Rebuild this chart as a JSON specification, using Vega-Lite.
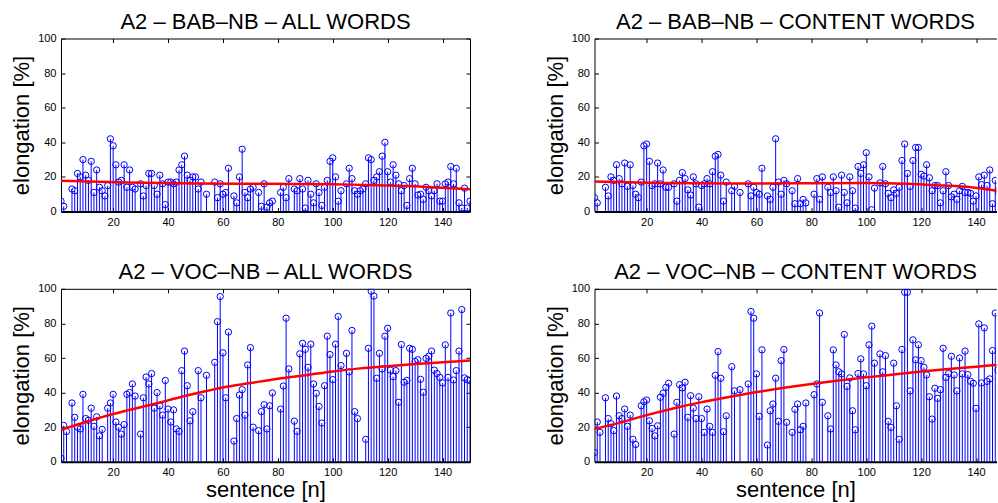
{
"$schema": "https://vega.github.io/schema/vega-lite/v6.json",
"padding": {"left": 10, "top": 10.5, "right": 0, "bottom": 0},
"datasets": {
"bab_all": [{"n":1,"v":6},{"n":2,"v":3},{"n":5,"v":13},{"n":6,"v":12},{"n":7,"v":22},{"n":8,"v":20},{"n":9,"v":30},{"n":10,"v":21},{"n":11,"v":18},{"n":12,"v":29},{"n":13,"v":11},{"n":14,"v":24},{"n":15,"v":14},{"n":16,"v":12},{"n":17,"v":9},{"n":18,"v":15},{"n":19,"v":42},{"n":20,"v":38},{"n":21,"v":27},{"n":22,"v":17},{"n":23,"v":18},{"n":24,"v":27},{"n":25,"v":14},{"n":26,"v":24},{"n":27,"v":14},{"n":28,"v":13},{"n":30,"v":16},{"n":31,"v":9},{"n":32,"v":15},{"n":33,"v":22},{"n":34,"v":22},{"n":35,"v":15},{"n":36,"v":10},{"n":37,"v":21},{"n":38,"v":16},{"n":39,"v":4},{"n":40,"v":17},{"n":41,"v":17},{"n":42,"v":16},{"n":43,"v":17},{"n":44,"v":24},{"n":45,"v":27},{"n":46,"v":32},{"n":47,"v":21},{"n":48,"v":18},{"n":49,"v":20},{"n":50,"v":20},{"n":51,"v":13},{"n":52,"v":17},{"n":54,"v":10},{"n":57,"v":17},{"n":58,"v":8},{"n":59,"v":16},{"n":60,"v":10},{"n":61,"v":11},{"n":62,"v":25},{"n":64,"v":9},{"n":65,"v":5},{"n":66,"v":20},{"n":67,"v":36},{"n":68,"v":11},{"n":69,"v":8},{"n":70,"v":13},{"n":71,"v":14},{"n":73,"v":11},{"n":74,"v":3},{"n":75,"v":16},{"n":76,"v":2.5},{"n":77,"v":5},{"n":78,"v":6},{"n":81,"v":11},{"n":82,"v":14},{"n":83,"v":8},{"n":84,"v":19},{"n":86,"v":13},{"n":87,"v":12},{"n":88,"v":19},{"n":89,"v":13},{"n":90,"v":2},{"n":91,"v":18},{"n":92,"v":10},{"n":93,"v":5},{"n":94,"v":16},{"n":95,"v":11},{"n":96,"v":3.5},{"n":97,"v":14},{"n":98,"v":18},{"n":99,"v":29},{"n":100,"v":31},{"n":101,"v":20},{"n":102,"v":6},{"n":103,"v":12},{"n":105,"v":16},{"n":106,"v":25},{"n":107,"v":19},{"n":108,"v":12},{"n":109,"v":10},{"n":110,"v":12},{"n":111,"v":13},{"n":112,"v":16},{"n":113,"v":31},{"n":114,"v":30},{"n":115,"v":18},{"n":116,"v":20},{"n":117,"v":23},{"n":118,"v":32},{"n":119,"v":40},{"n":120,"v":23},{"n":121,"v":17},{"n":122,"v":27},{"n":123,"v":21},{"n":124,"v":16},{"n":125,"v":12},{"n":126,"v":15},{"n":127,"v":3.5},{"n":128,"v":19},{"n":129,"v":25},{"n":130,"v":16},{"n":131,"v":9.5},{"n":132,"v":10},{"n":133,"v":7},{"n":134,"v":14},{"n":135,"v":12},{"n":136,"v":9},{"n":137,"v":12},{"n":138,"v":16},{"n":139,"v":6},{"n":140,"v":6},{"n":141,"v":16},{"n":142,"v":17},{"n":143,"v":26},{"n":144,"v":16},{"n":145,"v":25},{"n":146,"v":5},{"n":147,"v":2},{"n":148,"v":13.5},{"n":149,"v":2},{"n":150,"v":6}],
"bab_content": [{"n":1,"v":8},{"n":2,"v":5},{"n":5,"v":14},{"n":6,"v":9},{"n":7,"v":20},{"n":8,"v":18},{"n":9,"v":27},{"n":10,"v":19},{"n":11,"v":16},{"n":12,"v":28},{"n":13,"v":14.5},{"n":14,"v":27},{"n":15,"v":15},{"n":16,"v":10},{"n":17,"v":8},{"n":18,"v":17},{"n":19,"v":38},{"n":20,"v":39},{"n":21,"v":29},{"n":22,"v":15},{"n":23,"v":16},{"n":24,"v":28},{"n":25,"v":16},{"n":26,"v":24},{"n":27,"v":14},{"n":28,"v":14},{"n":30,"v":16},{"n":31,"v":6},{"n":32,"v":18},{"n":33,"v":22.5},{"n":34,"v":19},{"n":35,"v":12.5},{"n":36,"v":9.5},{"n":37,"v":20},{"n":38,"v":16},{"n":39,"v":2.5},{"n":40,"v":15},{"n":41,"v":16},{"n":42,"v":19},{"n":43,"v":16},{"n":44,"v":23},{"n":45,"v":32},{"n":46,"v":33},{"n":47,"v":21},{"n":48,"v":6},{"n":49,"v":17},{"n":51,"v":12},{"n":52,"v":14.5},{"n":54,"v":11},{"n":57,"v":16},{"n":58,"v":9},{"n":59,"v":14},{"n":60,"v":11},{"n":61,"v":10},{"n":62,"v":25},{"n":64,"v":9},{"n":65,"v":7},{"n":66,"v":14},{"n":67,"v":42},{"n":68,"v":17},{"n":69,"v":10},{"n":70,"v":18},{"n":71,"v":16},{"n":73,"v":12},{"n":74,"v":4.5},{"n":75,"v":19},{"n":76,"v":4.5},{"n":77,"v":7},{"n":78,"v":5},{"n":81,"v":10},{"n":82,"v":19},{"n":83,"v":7},{"n":84,"v":20},{"n":86,"v":14},{"n":87,"v":11},{"n":88,"v":20},{"n":89,"v":12},{"n":90,"v":2.5},{"n":91,"v":21},{"n":92,"v":11},{"n":93,"v":5},{"n":94,"v":20},{"n":95,"v":12},{"n":96,"v":2},{"n":97,"v":26},{"n":98,"v":22},{"n":99,"v":27},{"n":100,"v":34},{"n":101,"v":20},{"n":102,"v":1},{"n":103,"v":13.5},{"n":105,"v":16.5},{"n":106,"v":26},{"n":107,"v":16},{"n":108,"v":10.5},{"n":109,"v":8},{"n":110,"v":12.5},{"n":111,"v":10.5},{"n":112,"v":14},{"n":113,"v":29.5},{"n":114,"v":39},{"n":115,"v":22},{"n":116,"v":14.5},{"n":117,"v":29.5},{"n":118,"v":37},{"n":119,"v":37},{"n":120,"v":21.5},{"n":121,"v":20.5},{"n":122,"v":27},{"n":123,"v":19.5},{"n":124,"v":12},{"n":125,"v":15},{"n":126,"v":15},{"n":127,"v":5},{"n":128,"v":12},{"n":129,"v":23},{"n":130,"v":15},{"n":131,"v":8.5},{"n":132,"v":10},{"n":133,"v":7},{"n":134,"v":12},{"n":135,"v":14.5},{"n":136,"v":11},{"n":137,"v":11},{"n":138,"v":10.5},{"n":139,"v":6},{"n":140,"v":9},{"n":141,"v":20},{"n":142,"v":15.5},{"n":143,"v":21},{"n":144,"v":15},{"n":145,"v":24},{"n":146,"v":4.5},{"n":147,"v":18},{"n":148,"v":12},{"n":149,"v":8},{"n":150,"v":5}],
"voc_all": [{"n":1,"v":2},{"n":2,"v":21},{"n":3,"v":17.5},{"n":5,"v":34},{"n":6,"v":25.7},{"n":7,"v":20},{"n":8,"v":19},{"n":9,"v":39},{"n":10,"v":25},{"n":11,"v":24},{"n":12,"v":31},{"n":13,"v":20.5},{"n":14,"v":26},{"n":15,"v":15},{"n":16,"v":18.7},{"n":18,"v":31},{"n":19,"v":34},{"n":20,"v":39},{"n":21,"v":23},{"n":22,"v":20},{"n":23,"v":16},{"n":24,"v":21.5},{"n":25,"v":39},{"n":26,"v":40},{"n":27,"v":45},{"n":28,"v":38},{"n":30,"v":16},{"n":31,"v":37},{"n":32,"v":49},{"n":33,"v":45},{"n":34,"v":51},{"n":35,"v":31},{"n":36,"v":40},{"n":37,"v":32.4},{"n":38,"v":27},{"n":39,"v":47},{"n":40,"v":30.5},{"n":41,"v":23},{"n":42,"v":30},{"n":43,"v":19},{"n":44,"v":17.6},{"n":45,"v":52.7},{"n":46,"v":64},{"n":47,"v":44},{"n":48,"v":23.7},{"n":49,"v":29},{"n":51,"v":52.7},{"n":52,"v":37},{"n":54,"v":50},{"n":57,"v":57.5},{"n":58,"v":81},{"n":59,"v":95.5},{"n":60,"v":63},{"n":61,"v":37},{"n":62,"v":75},{"n":64,"v":12},{"n":65,"v":25},{"n":66,"v":38.6},{"n":67,"v":41.7},{"n":68,"v":27},{"n":69,"v":56},{"n":70,"v":66},{"n":71,"v":20},{"n":73,"v":18},{"n":74,"v":29},{"n":75,"v":33},{"n":76,"v":19},{"n":77,"v":32.4},{"n":78,"v":39.8},{"n":81,"v":30.5},{"n":82,"v":43.8},{"n":83,"v":83},{"n":84,"v":53.7},{"n":86,"v":23.5},{"n":87,"v":17.6},{"n":88,"v":62.4},{"n":89,"v":68.5},{"n":90,"v":65},{"n":91,"v":54.6},{"n":92,"v":68},{"n":93,"v":45},{"n":94,"v":39.6},{"n":95,"v":32},{"n":96,"v":22.4},{"n":97,"v":44},{"n":98,"v":72.6},{"n":99,"v":62},{"n":100,"v":47.5},{"n":101,"v":68},{"n":102,"v":84},{"n":103,"v":55.6},{"n":105,"v":62.7},{"n":106,"v":52},{"n":107,"v":75.9},{"n":108,"v":29},{"n":109,"v":25},{"n":112,"v":13},{"n":113,"v":65.6},{"n":114,"v":98.6},{"n":115,"v":95.8},{"n":116,"v":48.3},{"n":117,"v":62.7},{"n":118,"v":53.7},{"n":119,"v":72.6},{"n":120,"v":77.2},{"n":121,"v":53},{"n":122,"v":49.2},{"n":123,"v":52.7},{"n":124,"v":34.4},{"n":125,"v":67.8},{"n":126,"v":46},{"n":127,"v":47},{"n":128,"v":65.6},{"n":129,"v":65},{"n":130,"v":58},{"n":131,"v":59},{"n":132,"v":47.7},{"n":133,"v":40.2},{"n":134,"v":59.8},{"n":135,"v":61},{"n":136,"v":64},{"n":137,"v":53},{"n":138,"v":51},{"n":139,"v":48.8},{"n":140,"v":45.6},{"n":141,"v":67.6},{"n":142,"v":48.8},{"n":143,"v":86},{"n":144,"v":47.3},{"n":145,"v":52.7},{"n":146,"v":64},{"n":147,"v":88},{"n":148,"v":48.5},{"n":149,"v":47.5},{"n":150,"v":47}],
"voc_content": [{"n":1,"v":5.4},{"n":2,"v":23},{"n":3,"v":17},{"n":5,"v":37},{"n":6,"v":25},{"n":7,"v":22},{"n":8,"v":18},{"n":9,"v":38},{"n":10,"v":26.6},{"n":11,"v":25},{"n":12,"v":30.5},{"n":13,"v":20.5},{"n":14,"v":27},{"n":15,"v":13},{"n":16,"v":10},{"n":18,"v":32.4},{"n":19,"v":34.7},{"n":20,"v":35.7},{"n":21,"v":23.7},{"n":22,"v":19.3},{"n":23,"v":15},{"n":24,"v":20.8},{"n":25,"v":37.3},{"n":26,"v":39.6},{"n":27,"v":43},{"n":28,"v":45.4},{"n":30,"v":16},{"n":31,"v":34.4},{"n":32,"v":44.6},{"n":33,"v":42.7},{"n":34,"v":46},{"n":35,"v":25.7},{"n":36,"v":38.2},{"n":37,"v":31},{"n":38,"v":25},{"n":39,"v":37.6},{"n":40,"v":25},{"n":41,"v":17},{"n":42,"v":30.5},{"n":43,"v":20.5},{"n":44,"v":17},{"n":45,"v":50},{"n":46,"v":63.7},{"n":47,"v":48.3},{"n":48,"v":17.4},{"n":49,"v":26.6},{"n":51,"v":55},{"n":52,"v":41},{"n":54,"v":41.7},{"n":57,"v":45},{"n":58,"v":86.9},{"n":59,"v":83},{"n":60,"v":50.8},{"n":61,"v":26.3},{"n":62,"v":64.7},{"n":64,"v":9.7},{"n":65,"v":29.5},{"n":66,"v":33.4},{"n":67,"v":48.3},{"n":68,"v":23.4},{"n":69,"v":58.5},{"n":70,"v":64.9},{"n":71,"v":22.8},{"n":73,"v":17},{"n":74,"v":30.3},{"n":75,"v":33.4},{"n":76,"v":18.5},{"n":77,"v":20.5},{"n":78,"v":34},{"n":81,"v":38.8},{"n":82,"v":45},{"n":83,"v":86},{"n":84,"v":34.4},{"n":86,"v":26.6},{"n":87,"v":19},{"n":88,"v":64.7},{"n":89,"v":56},{"n":90,"v":52},{"n":91,"v":50.8},{"n":92,"v":73.6},{"n":93,"v":43.6},{"n":94,"v":48.5},{"n":95,"v":29.5},{"n":96,"v":18.5},{"n":97,"v":51},{"n":98,"v":59.5},{"n":99,"v":50.8},{"n":100,"v":44},{"n":101,"v":67.6},{"n":102,"v":78.4},{"n":103,"v":57},{"n":105,"v":62.4},{"n":106,"v":52},{"n":107,"v":61.4},{"n":108,"v":23.4},{"n":109,"v":19.9},{"n":110,"v":57},{"n":111,"v":32.4},{"n":112,"v":13},{"n":113,"v":64.9},{"n":114,"v":98},{"n":115,"v":98},{"n":116,"v":41},{"n":117,"v":70.5},{"n":118,"v":58.9},{"n":119,"v":67.6},{"n":120,"v":58.5},{"n":121,"v":54.6},{"n":122,"v":50.2},{"n":123,"v":37.6},{"n":124,"v":24.7},{"n":125,"v":42.5},{"n":126,"v":36.7},{"n":127,"v":41.7},{"n":128,"v":65.6},{"n":129,"v":48.8},{"n":130,"v":51},{"n":131,"v":61},{"n":132,"v":50.2},{"n":133,"v":41},{"n":134,"v":60},{"n":135,"v":50.8},{"n":136,"v":64},{"n":137,"v":50.4},{"n":138,"v":46.5},{"n":139,"v":45.4},{"n":140,"v":30.9},{"n":141,"v":79.7},{"n":142,"v":45.6},{"n":143,"v":77.4},{"n":144,"v":46.5},{"n":145,"v":47.9},{"n":146,"v":64.3},{"n":147,"v":86},{"n":148,"v":53}],
"bab_all_fit": [{"n":1,"v":17.8},{"n":25,"v":16.8},{"n":50,"v":16.2},{"n":75,"v":16},{"n":100,"v":15.8},{"n":120,"v":15},{"n":135,"v":14.2},{"n":150,"v":12.8}],
"bab_content_fit": [{"n":1,"v":17.4},{"n":25,"v":16.5},{"n":50,"v":16.2},{"n":75,"v":16.3},{"n":100,"v":16.5},{"n":115,"v":16},{"n":125,"v":15.2},{"n":135,"v":14.4},{"n":150,"v":11.5}],
"voc_all_fit": [{"n":1,"v":18.5},{"n":10,"v":23},{"n":20,"v":27.6},{"n":30,"v":31.5},{"n":40,"v":35.5},{"n":50,"v":39.5},{"n":60,"v":43},{"n":70,"v":45.5},{"n":80,"v":48},{"n":90,"v":50},{"n":100,"v":52.2},{"n":110,"v":54},{"n":120,"v":55.3},{"n":130,"v":56.5},{"n":140,"v":57.5},{"n":150,"v":58.5}],
"voc_content_fit": [{"n":1,"v":19},{"n":10,"v":22.5},{"n":20,"v":27},{"n":30,"v":31},{"n":40,"v":34.5},{"n":50,"v":37.5},{"n":60,"v":40.3},{"n":70,"v":42.8},{"n":80,"v":45},{"n":90,"v":47},{"n":100,"v":48.8},{"n":110,"v":50.5},{"n":120,"v":52.2},{"n":130,"v":53.7},{"n":140,"v":55},{"n":150,"v":56.3}]
},
"columns": 2,
"spacing": {"row": 33.3, "column": 72.5},
"concat": [
{"title": "A2 – BAB–NB – ALL WORDS", "width": 409, "height": 173,
 "layer": [
  {"data": {"name": "bab_all"}, "mark": {"type": "rule", "color": "#0000ff", "strokeWidth": 1, "clip": true},
   "encoding": {"x": {"field": "n", "type": "quantitative", "scale": {"domain": [1, 150], "nice": false, "zero": false}, "axis": {"orient": "bottom", "values": [20,40,60,80,100,120,140], "title": null, "domainWidth": 2}},
    "y": {"field": "v", "type": "quantitative", "scale": {"domain": [0, 100], "nice": false}, "axis": {"orient": "left", "values": [0,20,40,60,80,100], "title": "elongation [%]"}},
    "y2": {"datum": 0}}},
  {"data": {"name": "bab_all"}, "mark": {"type": "point", "shape": "circle", "filled": false, "color": "#0000ff", "size": 40, "strokeWidth": 1, "opacity": 1, "clip": true},
   "encoding": {"x": {"field": "n", "type": "quantitative", "axis": {"orient": "top", "values": [20,40,60,80,100,120,140], "labels": false, "title": null}},
    "y": {"field": "v", "type": "quantitative", "axis": {"orient": "right", "values": [0,20,40,60,80,100], "labels": false, "title": null}}}},
  {"data": {"name": "bab_all_fit"}, "mark": {"type": "line", "color": "#ff0000", "strokeWidth": 2.5, "interpolate": "monotone", "clip": true},
   "encoding": {"x": {"field": "n", "type": "quantitative", "axis": null}, "y": {"field": "v", "type": "quantitative", "axis": null}}}
 ]},
{"title": "A2 – BAB–NB – CONTENT WORDS", "width": 402, "height": 173,
 "layer": [
  {"data": {"name": "bab_content"}, "mark": {"type": "rule", "color": "#0000ff", "strokeWidth": 1, "clip": true},
   "encoding": {"x": {"field": "n", "type": "quantitative", "scale": {"domain": [1, 147.45], "nice": false, "zero": false}, "axis": {"orient": "bottom", "values": [20,40,60,80,100,120,140], "title": null, "domainWidth": 2}},
    "y": {"field": "v", "type": "quantitative", "scale": {"domain": [0, 100], "nice": false}, "axis": {"orient": "left", "values": [0,20,40,60,80,100], "title": "elongation [%]"}},
    "y2": {"datum": 0}}},
  {"data": {"name": "bab_content"}, "mark": {"type": "point", "shape": "circle", "filled": false, "color": "#0000ff", "size": 40, "strokeWidth": 1, "opacity": 1, "clip": true},
   "encoding": {"x": {"field": "n", "type": "quantitative", "axis": {"orient": "top", "values": [20,40,60,80,100,120,140], "labels": false, "title": null}},
    "y": {"field": "v", "type": "quantitative", "axis": {"orient": "right", "values": [0,20,40,60,80,100], "labels": false, "title": null, "tickColor": "transparent", "domainColor": "transparent"}}}},
  {"data": {"name": "bab_content_fit"}, "mark": {"type": "line", "color": "#ff0000", "strokeWidth": 2.5, "interpolate": "monotone", "clip": true},
   "encoding": {"x": {"field": "n", "type": "quantitative", "axis": null}, "y": {"field": "v", "type": "quantitative", "axis": null}}}
 ]},
{"title": "A2 – VOC–NB – ALL WORDS", "width": 409, "height": 173,
 "layer": [
  {"data": {"name": "voc_all"}, "mark": {"type": "rule", "color": "#0000ff", "strokeWidth": 1, "clip": true},
   "encoding": {"x": {"field": "n", "type": "quantitative", "scale": {"domain": [1, 150], "nice": false, "zero": false}, "axis": {"orient": "bottom", "values": [20,40,60,80,100,120,140], "title": "sentence [n]", "domainWidth": 2}},
    "y": {"field": "v", "type": "quantitative", "scale": {"domain": [0, 100], "nice": false}, "axis": {"orient": "left", "values": [0,20,40,60,80,100], "title": "elongation [%]"}},
    "y2": {"datum": 0}}},
  {"data": {"name": "voc_all"}, "mark": {"type": "point", "shape": "circle", "filled": false, "color": "#0000ff", "size": 40, "strokeWidth": 1, "opacity": 1, "clip": true},
   "encoding": {"x": {"field": "n", "type": "quantitative", "axis": {"orient": "top", "values": [20,40,60,80,100,120,140], "labels": false, "title": null}},
    "y": {"field": "v", "type": "quantitative", "axis": {"orient": "right", "values": [0,20,40,60,80,100], "labels": false, "title": null}}}},
  {"data": {"name": "voc_all_fit"}, "mark": {"type": "line", "color": "#ff0000", "strokeWidth": 2.5, "interpolate": "monotone", "clip": true},
   "encoding": {"x": {"field": "n", "type": "quantitative", "axis": null}, "y": {"field": "v", "type": "quantitative", "axis": null}}}
 ]},
{"title": "A2 – VOC–NB – CONTENT WORDS", "width": 402, "height": 173,
 "layer": [
  {"data": {"name": "voc_content"}, "mark": {"type": "rule", "color": "#0000ff", "strokeWidth": 1, "clip": true},
   "encoding": {"x": {"field": "n", "type": "quantitative", "scale": {"domain": [1, 147.45], "nice": false, "zero": false}, "axis": {"orient": "bottom", "values": [20,40,60,80,100,120,140], "title": "sentence [n]", "domainWidth": 2}},
    "y": {"field": "v", "type": "quantitative", "scale": {"domain": [0, 100], "nice": false}, "axis": {"orient": "left", "values": [0,20,40,60,80,100], "title": "elongation [%]"}},
    "y2": {"datum": 0}}},
  {"data": {"name": "voc_content"}, "mark": {"type": "point", "shape": "circle", "filled": false, "color": "#0000ff", "size": 40, "strokeWidth": 1, "opacity": 1, "clip": true},
   "encoding": {"x": {"field": "n", "type": "quantitative", "axis": {"orient": "top", "values": [20,40,60,80,100,120,140], "labels": false, "title": null}},
    "y": {"field": "v", "type": "quantitative", "axis": {"orient": "right", "values": [0,20,40,60,80,100], "labels": false, "title": null, "tickColor": "transparent", "domainColor": "transparent"}}}},
  {"data": {"name": "voc_content_fit"}, "mark": {"type": "line", "color": "#ff0000", "strokeWidth": 2.5, "interpolate": "monotone", "clip": true},
   "encoding": {"x": {"field": "n", "type": "quantitative", "axis": null}, "y": {"field": "v", "type": "quantitative", "axis": null}}}
 ]}
],
"config": {
 "font": "Liberation Sans",
 "view": {"stroke": null},
 "axis": {"labelFontSize": 11, "labelColor": "black", "titleFontSize": 22, "titleFontWeight": "normal", "titleColor": "black", "tickColor": "black", "domainColor": "black", "grid": false, "tickSize": -4, "labelPadding": 9, "titlePadding": 4, "domainWidth": 1},
 "axisBottom": {"titlePadding": 2},
 "title": {"fontSize": 22, "fontWeight": "normal", "offset": -1.5, "frame": "group", "color": "black"}
}
}
